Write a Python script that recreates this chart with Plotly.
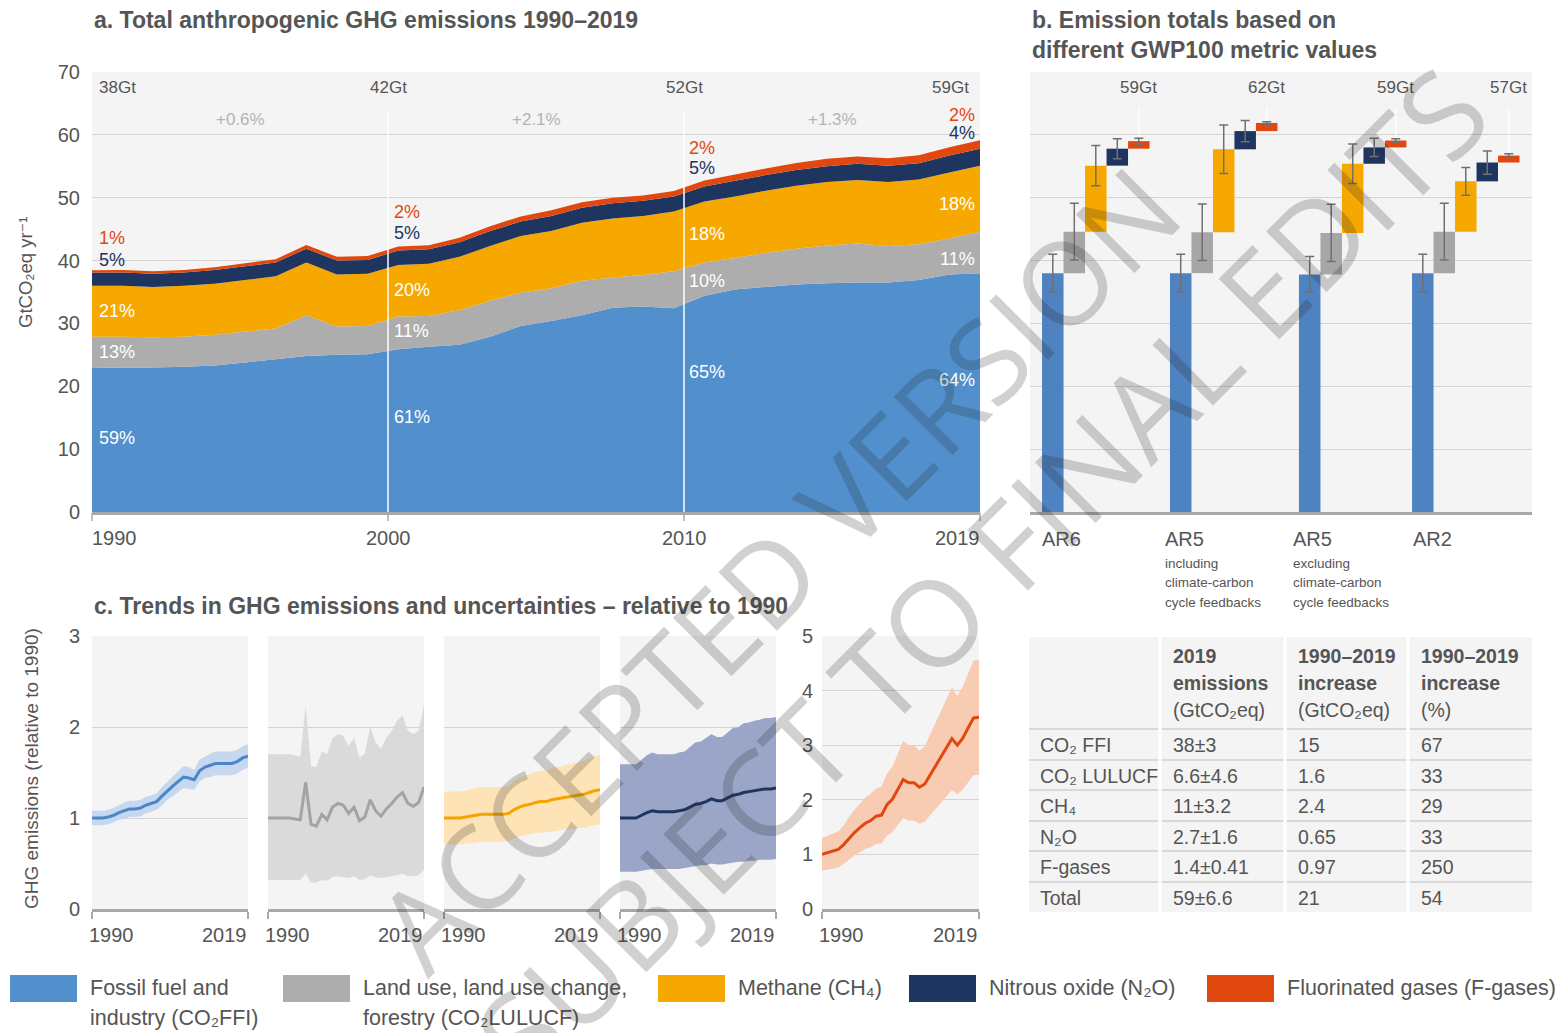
import plotly.graph_objects as go

W, H = 1555, 1033
FONT = "Liberation Sans, Arial, DejaVu Sans, sans-serif"
TXT = "#555555"

# ---------------- data: panel a (GtCO2eq / yr) ----------------
years = list(range(1990, 2020))
ffi = [22.9, 23.0, 23.0, 23.1, 23.3, 23.8, 24.3, 24.8, 25.0, 25.1,
       25.9, 26.3, 26.6, 27.9, 29.6, 30.4, 31.3, 32.5, 32.7, 32.4,
       34.4, 35.4, 35.8, 36.2, 36.4, 36.5, 36.5, 36.9, 37.8, 38.0]
lulucf = [5.0, 4.9, 4.8, 4.8, 4.9, 4.9, 4.9, 6.5, 4.5, 4.5,
          5.2, 4.9, 5.5, 5.7, 5.3, 5.2, 5.5, 4.8, 5.0, 5.9,
          5.3, 5.0, 5.4, 5.7, 6.0, 6.2, 5.8, 5.7, 5.7, 6.6]
ch4 = [8.1, 8.1, 8.0, 8.1, 8.1, 8.2, 8.3, 8.4, 8.3, 8.3,
       8.2, 8.3, 8.5, 8.7, 9.0, 9.1, 9.2, 9.4, 9.4, 9.5,
       9.7, 9.8, 9.9, 10.0, 10.1, 10.1, 10.2, 10.3, 10.5, 10.5]
n2o = [2.1, 2.1, 2.1, 2.1, 2.2, 2.2, 2.2, 2.2, 2.2, 2.2,
       2.3, 2.3, 2.3, 2.4, 2.3, 2.4, 2.4, 2.4, 2.4, 2.4,
       2.4, 2.5, 2.5, 2.5, 2.5, 2.6, 2.6, 2.6, 2.7, 2.7]
fgas = [0.38, 0.39, 0.40, 0.41, 0.45, 0.49, 0.53, 0.57, 0.60, 0.62,
        0.65, 0.65, 0.73, 0.76, 0.83, 0.90, 0.88, 0.88, 0.85, 0.87,
        0.93, 1.00, 1.06, 1.12, 1.19, 1.14, 1.19, 1.26, 1.33, 1.33]

totals_labels = ["38Gt", "42Gt", "52Gt", "59Gt"]
growth_labels = ["+0.6%", "+2.1%", "+1.3%"]
share_labels = [["1%", "5%", "21%", "13%", "59%"],
                ["2%", "5%", "20%", "11%", "61%"],
                ["2%", "5%", "18%", "10%", "65%"],
                ["2%", "4%", "18%", "11%", "64%"]]
share_label_y = [[43.6, 40.1, 32.0, 25.5, 11.8],
                 [47.7, 44.4, 35.3, 28.8, 15.1],
                 [57.9, 54.7, 44.2, 36.7, 22.3],
                 [63.2, 60.3, 49.0, 40.2, 21.0]]
year_ticks = ["1990", "2000", "2010", "2019"]

# ---------------- data: panel b ----------------
metrics = ["AR6", "AR5", "AR5", "AR2"]
metric_notes = [[], ["including", "climate-carbon", "cycle feedbacks"],
                ["excluding", "climate-carbon", "cycle feedbacks"], []]
b_ffi = [38.0, 38.0, 37.8, 38.0]
b_lulucf = [6.6, 6.5, 6.6, 6.6]
b_ch4 = [10.5, 13.2, 11.0, 8.0]
b_n2o = [2.7, 2.9, 2.6, 3.0]
b_fgas = [1.2, 1.3, 1.1, 1.1]
e_ffi = [3.0, 3.0, 2.85, 3.0]
e_lulucf = [4.5, 4.5, 4.55, 4.5]
e_ch4 = [3.2, 3.85, 3.15, 2.2]
e_n2o = [1.6, 1.7, 1.45, 1.85]
e_fgas = [0.45, 0.2, 0.3, 0.3]
b_total_labels = ["59Gt", "62Gt", "59Gt", "57Gt"]

# ---------------- data: panel c (relative to 1990) ----------------
ffi_rel = [1.00, 1.00, 1.00, 1.01, 1.03, 1.06, 1.08, 1.10, 1.10, 1.11,
           1.14, 1.16, 1.18, 1.24, 1.30, 1.35, 1.40, 1.45, 1.44, 1.42,
           1.52, 1.56, 1.58, 1.60, 1.60, 1.60, 1.60, 1.62, 1.66, 1.68]
ffi_lo = [0.92, 0.92, 0.92, 0.93, 0.95, 0.98, 0.99, 1.01, 1.01, 1.02,
          1.05, 1.07, 1.09, 1.14, 1.20, 1.24, 1.29, 1.33, 1.32, 1.31,
          1.40, 1.44, 1.45, 1.47, 1.47, 1.47, 1.47, 1.49, 1.53, 1.55]
ffi_hi = [1.08, 1.08, 1.08, 1.09, 1.11, 1.14, 1.17, 1.19, 1.19, 1.20,
          1.23, 1.25, 1.27, 1.34, 1.40, 1.46, 1.51, 1.57, 1.56, 1.53,
          1.64, 1.68, 1.71, 1.73, 1.73, 1.73, 1.73, 1.75, 1.79, 1.81]
lulucf_rel = [1.00, 1.00, 1.00, 1.00, 1.00, 0.99, 0.98, 1.39, 0.93, 0.91,
              1.04, 0.98, 1.12, 1.16, 1.14, 1.05, 1.12, 0.97, 1.01, 1.20,
              1.08, 1.02, 1.10, 1.16, 1.23, 1.28, 1.16, 1.13, 1.17, 1.34]
lulucf_lo = [0.32, 0.32, 0.32, 0.32, 0.32, 0.32, 0.32, 0.39, 0.29, 0.29,
             0.32, 0.31, 0.35, 0.36, 0.35, 0.34, 0.36, 0.32, 0.33, 0.37,
             0.35, 0.34, 0.35, 0.36, 0.37, 0.39, 0.36, 0.36, 0.37, 0.43]
lulucf_hi = [1.70, 1.70, 1.70, 1.70, 1.70, 1.69, 1.67, 2.23, 1.57, 1.56,
             1.73, 1.70, 1.88, 1.92, 1.90, 1.79, 1.88, 1.66, 1.71, 2.00,
             1.83, 1.76, 1.88, 1.96, 2.07, 2.13, 1.96, 1.92, 1.96, 2.25]
ch4_rel = [1.00, 1.00, 1.00, 1.00, 1.01, 1.02, 1.03, 1.04, 1.04, 1.04,
           1.04, 1.04, 1.05, 1.09, 1.12, 1.14, 1.15, 1.17, 1.18, 1.18,
           1.20, 1.21, 1.22, 1.23, 1.24, 1.25, 1.26, 1.28, 1.30, 1.31]
ch4_lo = [0.71, 0.71, 0.71, 0.71, 0.72, 0.72, 0.73, 0.74, 0.74, 0.74,
          0.74, 0.74, 0.75, 0.77, 0.80, 0.81, 0.82, 0.83, 0.84, 0.84,
          0.85, 0.86, 0.87, 0.87, 0.88, 0.89, 0.89, 0.91, 0.92, 0.93]
ch4_hi = [1.29, 1.29, 1.29, 1.29, 1.30, 1.32, 1.33, 1.34, 1.34, 1.34,
          1.34, 1.34, 1.35, 1.41, 1.44, 1.47, 1.48, 1.51, 1.52, 1.52,
          1.55, 1.56, 1.57, 1.59, 1.60, 1.61, 1.63, 1.65, 1.68, 1.69]
n2o_rel = [1.00, 1.00, 1.00, 1.00, 1.03, 1.06, 1.08, 1.07, 1.07, 1.07,
           1.07, 1.08, 1.09, 1.12, 1.15, 1.16, 1.18, 1.21, 1.19, 1.19,
           1.22, 1.25, 1.26, 1.28, 1.29, 1.30, 1.31, 1.32, 1.32, 1.33]
n2o_lo = [0.41, 0.41, 0.41, 0.41, 0.42, 0.43, 0.44, 0.44, 0.44, 0.44,
          0.44, 0.44, 0.45, 0.46, 0.47, 0.48, 0.48, 0.50, 0.49, 0.49,
          0.50, 0.51, 0.52, 0.52, 0.53, 0.53, 0.54, 0.54, 0.54, 0.55]
n2o_hi = [1.59, 1.59, 1.59, 1.59, 1.64, 1.69, 1.72, 1.70, 1.70, 1.70,
          1.70, 1.72, 1.73, 1.78, 1.83, 1.84, 1.88, 1.92, 1.89, 1.89,
          1.94, 1.99, 2.00, 2.04, 2.05, 2.07, 2.08, 2.10, 2.10, 2.11]
fgas_rel = [1.00, 1.03, 1.05, 1.09, 1.18, 1.30, 1.40, 1.49, 1.57, 1.62,
            1.70, 1.72, 1.91, 2.01, 2.19, 2.37, 2.31, 2.31, 2.23, 2.29,
            2.46, 2.63, 2.80, 2.95, 3.12, 3.00, 3.13, 3.32, 3.50, 3.51]
fgas_lo = [0.70, 0.72, 0.74, 0.76, 0.83, 0.91, 0.98, 1.04, 1.10, 1.13,
           1.19, 1.20, 1.34, 1.41, 1.53, 1.66, 1.62, 1.62, 1.56, 1.60,
           1.72, 1.84, 1.96, 2.07, 2.18, 2.10, 2.19, 2.32, 2.45, 2.46]
fgas_hi = [1.30, 1.34, 1.37, 1.42, 1.53, 1.69, 1.82, 1.94, 2.04, 2.11,
           2.21, 2.24, 2.48, 2.61, 2.85, 3.08, 3.00, 3.00, 2.90, 2.98,
           3.20, 3.42, 3.64, 3.84, 4.06, 3.90, 4.07, 4.32, 4.55, 4.56]

# ---------------- data: table ----------------
table_header = [["", "", ""],
                ["<b>2019</b>", "<b>emissions</b>", "(GtCO₂eq)"],
                ["<b>1990–2019</b>", "<b>increase</b>", "(GtCO₂eq)"],
                ["<b>1990–2019</b>", "<b>increase</b>", "(%)"]]
table_gas = ["CO₂ FFI", "CO₂ LULUCF", "CH₄", "N₂O", "F-gases", "Total"]
table_2019 = ["38±3", "6.6±4.6", "11±3.2", "2.7±1.6", "1.4±0.41", "59±6.6"]
table_inc_gt = ["15", "1.6", "2.4", "0.65", "0.97", "21"]
table_inc_pct = ["67", "33", "29", "33", "250", "54"]

legend_lines = [["Fossil fuel and", "industry (CO₂FFI)"],
                ["Land use, land use change,", "forestry (CO₂LULUCF)"],
                ["Methane (CH₄)"],
                ["Nitrous oxide (N₂O)"],
                ["Fluorinated gases (F-gases)"]]

# ---------------- styles ----------------
C = ["#5190cd", "#adadad", "#f6a800", "#1e3560", "#e1480f"]
C_B = ["#4e82c0", "#a6a6a6", "#f6a800", "#1e3560", "#e1480f"]
C_BAND = ["#c6d7f0", "#dadada", "#fde3b6", "#9aa5c7", "#f7ccb3"]
C_LINE = ["#4a86c8", "#a3a3a3", "#f5a300", "#1e3560", "#e0480f"]
LABEL_C = [C[4], C[3], "white", "white", "white"]
GRID = "#d4d4d4"
AXIS = "#a8a8a8"


def px(x):
    return x / W


def py(y):
    return 1 - y / H


fig = go.Figure()
annotations = []
shapes = []


def ann(text, x, y, size=20, color=TXT, xanchor="left", yanchor="middle", **kw):
    d = dict(text=text, x=x, y=y, showarrow=False, xanchor=xanchor, yanchor=yanchor,
             font=dict(family=kw.pop("family", FONT), size=size, color=color))
    d.setdefault("xref", "paper")
    d.setdefault("yref", "paper")
    d.update(kw)
    annotations.append(d)


# ---------------- panel a ----------------
for vals, col in zip([ffi, lulucf, ch4, n2o, fgas], C):
    fig.add_trace(go.Scatter(x=years, y=vals, stackgroup="a", mode="none",
                             fillcolor=col, line=dict(width=0), xaxis="x", yaxis="y",
                             showlegend=False, hoverinfo="skip"))

thirds = [0, 1 / 3, 2 / 3, 1]
for f in thirds[1:3]:
    shapes.append(dict(type="line", xref="x domain", yref="y", x0=f, x1=f, y0=0, y1=63.8,
                       line=dict(color="white", width=1.5), layer="above"))
for f in thirds:
    shapes.append(dict(type="line", xref="x domain", yref="paper", x0=f, x1=f,
                       y0=py(513), y1=py(521), line=dict(color=AXIS, width=1.5)))

for i, (lab, f) in enumerate(zip(totals_labels, thirds)):
    anc = "left" if i == 0 else ("right" if i == 3 else "center")
    sh = 5 if i == 0 else (-9 if i == 3 else 0)
    ann(lab, f, 67.6, size=17, xref="x domain", yref="y", xanchor=anc, xshift=sh)
for lab, f in zip(growth_labels, [1 / 6, 1 / 2, 5 / 6]):
    ann(lab, f, 62.4, size=17, color="#b3b3b3", xref="x domain", yref="y", xanchor="center")
for i, f in enumerate(thirds):
    anc = "right" if i == 3 else "left"
    sh = [5, 4, 3, -3][i]
    for lab, yy, col in zip(share_labels[i], share_label_y[i], LABEL_C):
        ann(lab, f, yy, size=18, color=col, xref="x domain", yref="y", xanchor=anc, xshift=sh)
for i, (lab, f) in enumerate(zip(year_ticks, thirds)):
    anc = "left" if i == 0 else ("right" if i == 3 else "center")
    sh = -2 if i == 0 else (2 if i == 3 else 0)
    ann(lab, f, py(538), size=20, xref="x domain", xanchor=anc, xshift=sh)

ann("<b>a. Total anthropogenic GHG emissions 1990–2019</b>", px(92), py(20), size=23)
ann("GtCO₂eq yr⁻¹", px(25), py(272), size=18.5, xanchor="center", textangle=-90)

# ---------------- panel b ----------------
group_left = [0.56, 6.51, 12.51, 17.77]
b_series = [b_ffi, b_lulucf, b_ch4, b_n2o, b_fgas]
b_errs = [e_ffi, e_lulucf, e_ch4, e_n2o, e_fgas]
for k, (vals, errs) in enumerate(zip(b_series, b_errs)):
    xs = [g + 0.5 + k for g in group_left]
    bases = [sum(s[i] for s in b_series[:k]) for i in range(len(metrics))]
    tops = [b + v for b, v in zip(bases, vals)]
    fig.add_trace(go.Bar(x=xs, y=vals, base=bases, width=1.0,
                         marker=dict(color=C_B[k], line=dict(width=0)),
                         xaxis="x2", yaxis="y2", showlegend=False, hoverinfo="skip"))
    fig.add_trace(go.Scatter(x=xs, y=tops, mode="markers",
                             marker=dict(size=1, color="rgba(0,0,0,0)"),
                             error_y=dict(type="data", array=errs, color="#707070",
                                          thickness=1.5, width=4.5),
                             xaxis="x2", yaxis="y2", showlegend=False, hoverinfo="skip"))
    if k == len(b_series) - 1:
        for x, t, e, lab in zip(xs, tops, errs, b_total_labels):
            shapes.append(dict(type="line", xref="x2", yref="y2", x0=x, x1=x, y0=t + e + 0.3,
                               y1=64.3, line=dict(color="white", width=1.2)))
            ann(lab, x, 67.6, size=17, xref="x2", yref="y2", xanchor="center")

cat_x = [1040, 1163, 1291, 1411]
for name, notes, cx in zip(metrics, metric_notes, cat_x):
    ann(name, px(cx), py(539), size=20)
    for j, note in enumerate(notes):
        ann(note, px(cx), py(563 + 19.5 * j), size=13.5)

ann("<b>b. Emission totals based on</b>", px(1030), py(20), size=23)
ann("<b>different GWP100 metric values</b>", px(1030), py(50), size=23)

# ---------------- panel c ----------------
c_sets = [(ffi_rel, ffi_lo, ffi_hi), (lulucf_rel, lulucf_lo, lulucf_hi),
          (ch4_rel, ch4_lo, ch4_hi), (n2o_rel, n2o_lo, n2o_hi),
          (fgas_rel, fgas_lo, fgas_hi)]
for i, (rel, lo, hi) in enumerate(c_sets):
    xa, ya = f"x{i + 3}", f"y{i + 3}"
    fig.add_trace(go.Scatter(x=years, y=lo, mode="lines", line=dict(width=0, color=C_BAND[i]),
                             xaxis=xa, yaxis=ya, showlegend=False, hoverinfo="skip"))
    fig.add_trace(go.Scatter(x=years, y=hi, mode="lines", line=dict(width=0, color=C_BAND[i]),
                             fill="tonexty", fillcolor=C_BAND[i],
                             xaxis=xa, yaxis=ya, showlegend=False, hoverinfo="skip"))
    fig.add_trace(go.Scatter(x=years, y=rel, mode="lines", line=dict(width=3, color=C_LINE[i]),
                             xaxis=xa, yaxis=ya, showlegend=False, hoverinfo="skip"))
    ann("1990", 0, py(935), size=20, xref=f"{xa} domain", xshift=-5)
    ann("2019", 1, py(935), size=20, xref=f"{xa} domain", xanchor="right", xshift=1)

ann("<b>c. Trends in GHG emissions and uncertainties – relative to 1990</b>", px(92), py(606), size=23)
ann("GHG emissions (relative to 1990)", px(31), py(769), size=19, xanchor="center", textangle=-90)

# ---------------- table ----------------
tx0, tx1, ty0, ty1 = 1029, 1532, 637, 912
col_x = [1029, 1160, 1285, 1408, 1532]
row_y = [637, 729, 760, 790, 821, 851, 882, 912]
shapes.append(dict(type="rect", xref="paper", yref="paper", x0=px(tx0), x1=px(tx1),
                   y0=py(ty1), y1=py(ty0), fillcolor="#f4f4f4", line=dict(width=0), layer="below"))
for ry in row_y[1:-1]:
    shapes.append(dict(type="line", xref="paper", yref="paper", x0=px(tx0), x1=px(tx1),
                       y0=py(ry), y1=py(ry), line=dict(color="#d9d9d9", width=2)))
for cx in col_x[1:-1]:
    shapes.append(dict(type="line", xref="paper", yref="paper", x0=px(cx), x1=px(cx),
                       y0=py(ty1), y1=py(ty0), line=dict(color="white", width=3)))
for c, lines in enumerate(table_header):
    for j, t in enumerate(lines):
        if t:
            ann(t, px(col_x[c] + 11), py(656 + 27 * j), size=19.5)
cols = [table_gas, table_2019, table_inc_gt, table_inc_pct]
for c, colvals in enumerate(cols):
    for r, t in enumerate(colvals):
        ann(t, px(col_x[c] + (9 if c == 0 else 11)), py((row_y[r + 1] + row_y[r + 2]) / 2 + 0.5),
            size=19.5)

# ---------------- legend ----------------
leg_rect_x = [10, 283, 658, 909, 1207]
for lines, x0, col in zip(legend_lines, leg_rect_x, C):
    shapes.append(dict(type="rect", xref="paper", yref="paper", x0=px(x0), x1=px(x0 + 67),
                       y0=py(1002), y1=py(975), fillcolor=col, line=dict(width=0)))
    for j, t in enumerate(lines):
        ann(t, px(x0 + 78), py(988 + 30 * j), size=21.5)

# ---------------- watermark ----------------
WM = "rgba(40,40,40,0.21)"
ann("ACCEPTED VERSION", px(776), py(568), size=116, color=WM, xanchor="center",
    textangle=-45, family="Open Sans, Liberation Sans, sans-serif")
ann("SUBJECT TO FINAL EDITS", px(980), py(572), size=120, color=WM, xanchor="center",
    textangle=-45, family="Open Sans, Liberation Sans, sans-serif")

# ---------------- axes ----------------
def xdom(a, b):
    return [px(a), px(b)]


def ydom(top, bottom):
    return [py(bottom), py(top)]


common_x = dict(showgrid=False, zeroline=False, showline=True, linecolor=AXIS, linewidth=3,
                showticklabels=False, fixedrange=True, automargin=False)
common_y = dict(showgrid=True, gridcolor=GRID, gridwidth=1, zeroline=False, showline=False,
                fixedrange=True, ticks="", automargin=False,
                tickfont=dict(family=FONT, size=20, color=TXT))

layout = dict(
    width=W, height=H, autosize=False,
    margin=dict(l=0, r=0, t=0, b=0, pad=0, autoexpand=False),
    paper_bgcolor="white", plot_bgcolor="#f4f4f4", barmode="overlay",
    font=dict(family=FONT, color=TXT), showlegend=False,
    xaxis=dict(domain=xdom(92, 980), range=[1990, 2019], ticks="", anchor="y", **common_x),
    yaxis=dict(domain=ydom(72, 512), range=[0, 70], dtick=10, showticklabels=True,
               ticklabelstandoff=11, anchor="x", **common_y),
    xaxis2=dict(domain=xdom(1030, 1532), range=[0, 23.35], ticks="", anchor="y2", **common_x),
    yaxis2=dict(domain=ydom(72, 512), range=[0, 70], dtick=10, showticklabels=False,
                anchor="x2", **common_y),
)
c_dom = [(92, 248), (268, 424), (444, 600), (620, 776), (822, 979)]
for i, (a, b) in enumerate(c_dom):
    n = i + 3
    layout[f"xaxis{n}"] = dict(domain=xdom(a, b), range=[1990, 2019], anchor=f"y{n}",
                               ticks="outside", tickvals=[1990, 2019], ticklen=7,
                               tickcolor=AXIS, tickwidth=1.5, **common_x)
    layout[f"yaxis{n}"] = dict(domain=ydom(636, 909), range=[0, 5 if i == 4 else 3], dtick=1,
                               anchor=f"x{n}", showticklabels=(i in (0, 4)),
                               ticklabelstandoff=(11 if i == 0 else 8), **common_y)
layout["annotations"] = annotations
layout["shapes"] = shapes
fig.update_layout(**layout)

reset_page = ("document.body.style.margin='0';document.body.style.padding='0';"
              "var g=document.getElementById('{plot_id}');g.style.position='absolute';"
              "g.style.left='0px';g.style.top='0px';")
fig.write_html("out.html", include_plotlyjs=True, full_html=True,
               config={"displayModeBar": False, "staticPlot": True, "responsive": False},
               post_script=reset_page)
